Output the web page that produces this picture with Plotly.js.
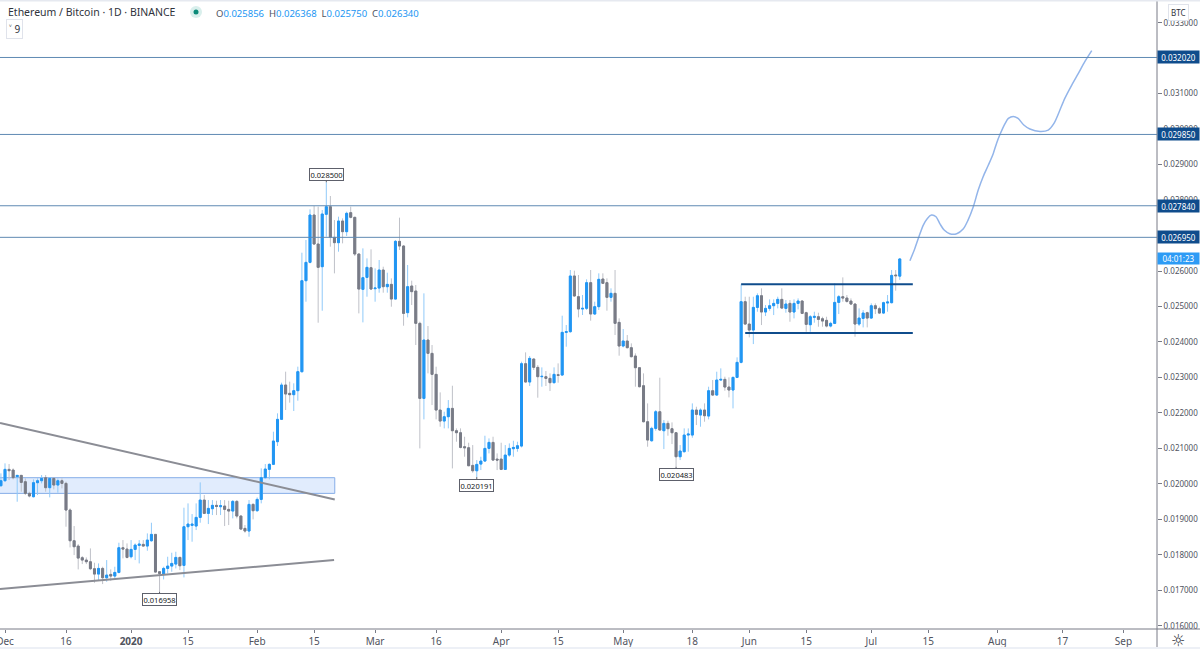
<!DOCTYPE html>
<html>
<head>
<meta charset="utf-8">
<script src="https://cdn.plot.ly/plotly-3.0.1.min.js"></script>
<style>html,body{margin:0;padding:0;background:#fff;overflow:hidden}#chart{width:1200px;height:649px}</style>
</head>
<body>
<div id="chart"></div>
<script>
// Prices are in millionths of a BTC, one candle per day from firstDay
const firstDay = '2019-11-30';
const opens = [
19948,20089,20409,20390,20202,20240,20061,19732,19638,20033,
20089,20174,19892,20155,19967,20089,20014,19262,18397,18247,
17918,17852,17805,17608,17457,17617,17354,17448,17401,17504,
18200,18162,17946,18153,18266,18294,18247,18397,18576,17523,
17457,17617,17683,17739,17927,17702,18792,18830,18811,19055,
19544,19168,19300,19394,19356,19375,19281,19234,19506,19093,
18745,18670,19422,19243,19563,20174,20409,20550,21189,21819,
22787,22552,22514,22627,23161,25727,26244,27579,26761,26122,
27598,27814,26949,26799,27410,27109,27645,27513,26479,25483,
25821,26094,25502,25520,26028,25558,25624,25210,26836,26705,
24826,25578,25437,24525,22410,24055,23679,23087,22081,21771,
21893,22128,21498,21442,21047,21019,20521,20370,20558,20643,
21000,21169,20699,20699,20408,20812,20991,21000,21066,23388,
22871,23519,23284,23021,23021,22974,22852,23077,23068,24271,
24290,25860,25277,24929,24948,25672,24788,24995,25775,25672,
25258,25371,24553,23886,24027,23839,23604,23275,22767,21752,
21216,21564,22034,21498,21705,21555,21442,20765,20906,21376,
21376,22081,21940,22081,21912,22626,22504,22927,22946,22729,
22645,23002,23425,25136,
24505,24336,24975,25304,24844,24947,25022,25088,25201,24947,
25088,24844,25088,25154,24825,24486,24693,24712,24655,24609,
24449,24524,25116,25276,25238,25154,25069,24505,24665,24825,
24674,25022,24938,24815,25098,25107,25887,25856];
const highs = [
20296,20578,20559,20437,20249,20249,20155,19779,20127,20155,
20249,20249,20183,20155,20155,20155,20061,19309,18811,18303,
17965,17927,18181,17777,17758,17664,17852,17589,17664,18341,
18416,18322,18416,18322,18416,18416,18604,18905,18585,17542,
17664,17946,18059,18087,17946,19328,19450,19149,19450,20042,
19685,19544,19544,19525,19544,19544,19525,19544,19544,19121,
18839,19544,19450,19619,20437,20559,20578,21471,21988,22853,
23163,22881,22834,23304,26517,26874,27739,27833,27814,27720,
28500,28115,27438,27532,27485,27673,27814,27532,26498,26639,
26357,26611,26075,26310,26122,25953,25793,26874,27504,26733,
26170,25728,25606,24572,25371,24450,23914,23303,22579,22034,
22363,22767,21564,21564,21329,21160,21094,20671,20765,21357,
21282,21329,20859,21160,21094,21141,21216,21188,23444,23707,
23604,23538,23350,23284,23181,23115,23284,23397,24741,24478,
26029,26010,25888,25324,25766,26029,25136,25935,25935,25794,
25512,26029,24666,24365,24196,23961,23679,23284,23115,22269,
21611,22081,22993,21799,21780,21733,21451,21094,21564,21564,
22269,22175,22128,22269,22739,22927,23162,23256,23021,23002,
23021,23566,25624,25276,
25276,25276,25370,25511,25041,25201,25201,25276,25511,25182,
25182,25201,25229,25182,24853,24759,24853,24825,24712,24712,
24571,25652,25323,25821,25323,25229,25088,24947,24900,24853,
25088,25088,24994,25135,25323,26028,26028,26368];
const lows = [
19920,20061,20108,20127,19497,19779,19685,19619,19619,19685,
20014,19779,19619,19845,19751,19873,18792,18209,17993,17589,
17739,17739,17570,17213,17288,17175,17241,17269,17335,17476,
17899,17899,17899,17852,17758,18228,18115,18369,17495,16958,
17307,17476,17523,17617,17570,17363,18416,18369,18698,18905,
19149,18867,19121,19121,19121,18811,18839,19027,19027,18698,
18623,18510,19000,19215,19450,20155,20127,20531,21067,21800,
22082,22289,22054,22345,23142,25135,26216,26733,24543,24881,
26968,26686,25934,26545,26780,26987,27485,26423,24806,24552,
25276,25464,25135,25389,25389,25389,24994,25201,26592,24458,
24694,25042,23914,21000,21818,23115,22222,21818,21611,21564,
21564,20436,21188,21000,20765,20502,20314,20191,20389,20624,
20859,20652,20389,20389,20408,20765,20765,20906,21028,22852,
22758,23209,22429,22739,22758,22617,22833,22852,23040,23867,
24262,25277,24694,24760,24901,24600,24760,24901,25634,24882,
25136,24196,23613,23848,23820,23566,22739,22720,21733,21047,
21188,21498,21498,20981,21357,21122,20483,20671,20887,20906,
21301,21658,21611,21752,21818,22476,22485,22908,22626,22438,
22128,22983,23397,24477,
24129,23941,24853,24477,24731,24881,24759,24947,24928,24825,
24571,24665,24919,24787,24289,24289,24543,24430,24430,24411,
24411,24505,24787,25135,25107,25041,24148,24449,24411,24411,
24655,24787,24787,24787,24853,25088,25445,25750];
const closes = [
20089,20409,20371,20174,20240,20042,19732,19657,20033,20089,
20155,19892,20155,19967,20089,20014,19262,18397,18228,17908,
17852,17805,17608,17457,17617,17354,17429,17401,17504,18200,
18162,17927,18153,18275,18303,18247,18416,18576,17514,17476,
17617,17683,17758,17927,17692,18792,18867,18867,19055,19544,
19168,19309,19394,19365,19384,19281,19234,19506,19093,18726,
18670,19422,19243,19563,20174,20418,20550,21208,21819,22787,
22533,22514,22627,23163,25727,26244,27579,26761,26103,27607,
27814,26949,26799,27410,27109,27626,27513,26479,25492,25812,
26103,25492,25520,26028,25558,25624,25210,26836,26705,24806,
25559,25418,24525,22410,24055,23679,23087,22081,21771,21893,
22128,21498,21442,21028,21019,20511,20370,20549,20643,21000,
21169,20671,20671,20408,20812,21000,21028,21075,23388,22871,
23538,23284,23021,23031,22974,22852,23087,23059,24271,24290,
25860,25296,24929,24948,25672,24788,24995,25766,25653,25258,
25371,24525,23886,24027,23839,23585,23275,22739,21752,21235,
21564,22034,21517,21705,21555,21442,20765,20925,21376,21404,
22081,21959,22081,21921,22626,22504,22927,22946,22729,22645,
23002,23425,25136,24505,
24336,24975,25304,24844,24947,25022,25088,25201,24956,25069,
24844,25088,25154,24806,24496,24712,24721,24637,24590,24449,
24524,25116,25276,25238,25144,25069,24505,24674,24815,24674,
25022,24938,24815,25107,25126,25877,25868,26340];

const projectionDates = ['2020-07-10 12:00','2020-07-11 17:00','2020-07-12 17:00','2020-07-13 19:00','2020-07-14 19:00','2020-07-15 19:00','2020-07-16 22:00','2020-07-17 22:00','2020-07-18 22:00','2020-07-20 07:00','2020-07-22 00:00','2020-07-23 14:00','2020-07-24 19:00','2020-07-26 02:00','2020-07-27 07:00','2020-07-28 12:00','2020-07-29 19:00','2020-07-31 00:00','2020-07-31 19:00','2020-08-01 14:00','2020-08-02 22:00','2020-08-03 17:00','2020-08-04 22:00','2020-08-06 02:00','2020-08-07 12:00','2020-08-09 00:00','2020-08-11 12:00','2020-08-13 12:00','2020-08-14 22:00','2020-08-16 05:00','2020-08-17 14:00','2020-08-19 07:00','2020-08-20 22:00','2020-08-22 12:00','2020-08-24 05:00'];
const projectionPrices = [26289,26637,26966,27295,27483,27577,27530,27323,27154,27051,27051,27182,27436,27812,28282,28658,28987,29316,29598,29833,30162,30303,30359,30303,30115,30002,29936,29974,30162,30491,30867,31243,31572,31901,32211];

const levelPrices = [32020,29850,27840,26950];
const yTickPrices = [16000,17000,18000,19000,20000,21000,22000,23000,24000,25000,26000,27000,28000,29000,30000,31000,32000,33000];
const xTickDates = ['2019-12-01','2019-12-16','2020-01-01','2020-01-15','2020-02-01','2020-02-15','2020-03-01','2020-03-16','2020-04-01','2020-04-15','2020-05-01','2020-05-18','2020-06-01','2020-06-15','2020-07-01','2020-07-15','2020-08-01','2020-08-17','2020-09-01'];
const xTickLabels = ['Dec','16','<b>2020</b>','15','Feb','15','Mar','16','Apr','15','May','18','Jun','15','Jul','15','Aug','17','Sep'];

const upperTrendDates = ['2019-11-29 18:30','2020-02-20 02:00'];
const upperTrendPrices = [21715,19559];
const lowerTrendDates = ['2019-11-29 18:30','2020-02-19 22:00'];
const lowerTrendPrices = [17036,17854];
const bandDates = ['2019-11-29 00:00','2020-02-20 02:00'];
const bandPrices = [19732,20174];
const boxTopDates = ['2020-05-30 00:00','2020-07-11 05:00'];
const boxTopPrice = 25625;
const boxBottomDates = ['2020-05-31 00:00','2020-07-11 05:00'];
const boxBottomPrice = 24253;

const extremeDates = ['2020-01-08','2020-02-18','2020-03-26','2020-05-14'];
const extremePrices = [16958,28500,20191,20483];
const extremeOffsets = [8,-8,8,8];

const xRange = ['2019-11-29 18:30','2020-09-09 06:00'];
const yRange = [15909,33640];
const W = 1157, H = 629;

const btc = a => a.map(v => v/1e6);
const days = opens.map((_,i) => new Date(Date.parse(firstDay+'T00:00:00Z')+i*864e5).toISOString().slice(0,10));
const BLUE='#2196f3', GRAY='#787b86', WICKB='#90caf9', WICKG='#bfc1c8', NAVY='#0f4c8c', LEVEL='#5f8ab3';
const FONT='"Noto Sans", "Open Sans", sans-serif';
const px = v => v/W, py = v => 1-v/H;

const traces = [
 {type:'candlestick',x:days,open:btc(opens),high:btc(highs),low:btc(lows),close:btc(closes),whiskerwidth:0,
  increasing:{line:{color:WICKB,width:1},fillcolor:WICKB},decreasing:{line:{color:WICKG,width:1},fillcolor:WICKG},hoverinfo:'skip'},
 {type:'candlestick',x:days,open:btc(opens),close:btc(closes),
  high:btc(opens.map((o,i)=>Math.max(o,closes[i]))),low:btc(opens.map((o,i)=>Math.min(o,closes[i]))),whiskerwidth:0,
  increasing:{line:{color:BLUE,width:1},fillcolor:BLUE},decreasing:{line:{color:GRAY,width:1},fillcolor:GRAY},hoverinfo:'skip'},
 {type:'scatter',mode:'lines',x:upperTrendDates,y:btc(upperTrendPrices),line:{color:'#8b8d95',width:2},hoverinfo:'skip'},
 {type:'scatter',mode:'lines',x:lowerTrendDates,y:btc(lowerTrendPrices),line:{color:'#8b8d95',width:2},hoverinfo:'skip'},
 {type:'scatter',mode:'lines',x:boxTopDates,y:btc([boxTopPrice,boxTopPrice]),line:{color:NAVY,width:2},hoverinfo:'skip'},
 {type:'scatter',mode:'lines',x:boxBottomDates,y:btc([boxBottomPrice,boxBottomPrice]),line:{color:NAVY,width:2},hoverinfo:'skip'},
 {type:'scatter',mode:'lines',x:projectionDates,y:btc(projectionPrices),line:{color:'#93b5ea',width:1.5,shape:'spline',smoothing:0.8},hoverinfo:'skip'}
];

const shapes = [
 {type:'rect',xref:'x',yref:'y',layer:'below',x0:bandDates[0],x1:bandDates[1],y0:bandPrices[0]/1e6,y1:bandPrices[1]/1e6,fillcolor:'rgba(120,170,245,0.22)',line:{color:'#86aee8',width:1}},
 ...levelPrices.map(p=>({type:'line',xref:'paper',yref:'y',x0:0,x1:1,y0:p/1e6,y1:p/1e6,line:{color:LEVEL,width:1}})),
 {type:'line',xref:'paper',yref:'paper',x0:1,x1:1,y0:py(0),y1:py(649),line:{color:'#787b86',width:1}},
 {type:'line',xref:'paper',yref:'paper',x0:0,x1:px(1200),y0:0,y1:0,line:{color:'#787b86',width:1}},
 {type:'rect',xref:'paper',yref:'paper',x0:0,x1:px(1200),y0:py(0),y1:py(1.5),fillcolor:'#e6e9f0',line:{width:0}},
 {type:'rect',xref:'paper',yref:'paper',x0:0,x1:px(1200),y0:py(647),y1:py(649),fillcolor:'#edf0f6',line:{width:0}},
 {type:'circle',xref:'paper',yref:'paper',x0:px(190),x1:px(202),y0:py(6),y1:py(18),fillcolor:'#d9efec',line:{width:0}},
 {type:'circle',xref:'paper',yref:'paper',x0:px(193.5),x1:px(198.5),y0:py(9.5),y1:py(14.5),fillcolor:'#0b8a78',line:{width:0}}
];

const txt=(x,y,text,o={})=>Object.assign({xref:'paper',yref:'paper',x:px(x),y:py(y),text,showarrow:false,xanchor:'left',yanchor:'middle',font:{family:FONT,size:11,color:'#131722'}},o);
const levelLabel=p=>({xref:'paper',yref:'y',x:1,y:p/1e6,xanchor:'left',yanchor:'middle',showarrow:false,text:(p/1e6).toFixed(6),width:41,height:12,bgcolor:NAVY,borderpad:0,font:{family:FONT,size:8,color:'#fff'}});
const stat=(l,v)=>`<span style="color:#50535e">${l}</span><span style="color:#2196f3">${v}</span>`;

const annotations = [
 txt(6,12,'Ethereum / Bitcoin · 1D · BINANCE',{font:{family:FONT,size:10.5,color:'#30333c'}}),
 txt(214,13,[stat('O','0.025856'),stat('H','0.026368'),stat('L','0.025750'),stat('C','0.026340')].join('  '),{font:{family:FONT,size:9.5,color:'#2196f3'}}),
 txt(6,29,'˅ 9',{font:{family:FONT,size:10,color:'#30333c'},bordercolor:'#e0e3eb',borderwidth:1,borderpad:2,bgcolor:'#fff'}),
 txt(1168,12,'BTC',{font:{family:FONT,size:8,color:'#30333c'},bordercolor:'#e0e3eb',borderwidth:1,borderpad:2,bgcolor:'#fff'}),
 ...levelPrices.map(levelLabel),
 {xref:'paper',yref:'y',x:1,y:closes[closes.length-1]/1e6,xanchor:'left',yanchor:'middle',showarrow:false,text:'04:01:23',width:41,height:11,bgcolor:'#2d9bf5',borderpad:0,font:{family:FONT,size:8,color:'#fff'}},
 txt(1178,640,'☼',{xanchor:'center',font:{family:'DejaVu Sans',size:16,color:'#30333c'}}),
 ...extremeDates.map((d,i)=>({xref:'x',yref:'y',x:d,y:extremePrices[i]/1e6,text:(extremePrices[i]/1e6).toFixed(6),showarrow:true,arrowhead:0,arrowwidth:1,arrowcolor:'#5d606b',ax:0,ay:extremeOffsets[i],standoff:0,bgcolor:'#fff',bordercolor:'#5d606b',borderwidth:1,borderpad:0.5,font:{family:FONT,size:7.5,color:'#131722'}}))
];

const layout = {
 width:1200,height:649,margin:{l:0,r:43,t:0,b:20},paper_bgcolor:'#fff',plot_bgcolor:'#fff',showlegend:false,dragmode:false,
 xaxis:{type:'date',range:xRange,rangeslider:{visible:false},tickmode:'array',tickvals:xTickDates,ticktext:xTickLabels,showgrid:false,zeroline:false,ticklabeloverflow:'allow',
  showline:false,ticks:'outside',ticklen:3,tickcolor:'#787b86',tickfont:{family:FONT,size:10,color:'#50535e'}},
 yaxis:{side:'right',range:yRange.map(v=>v/1e6),tickmode:'array',tickvals:btc(yTickPrices),tickformat:'.6f',showgrid:false,zeroline:false,
  showline:false,ticks:'outside',ticklen:4,tickcolor:'#787b86',tickfont:{family:FONT,size:8,color:'#50535e'}},
 shapes,annotations
};
Plotly.newPlot('chart',traces,layout,{staticPlot:true,displayModeBar:false});
</script>
</body>
</html>
